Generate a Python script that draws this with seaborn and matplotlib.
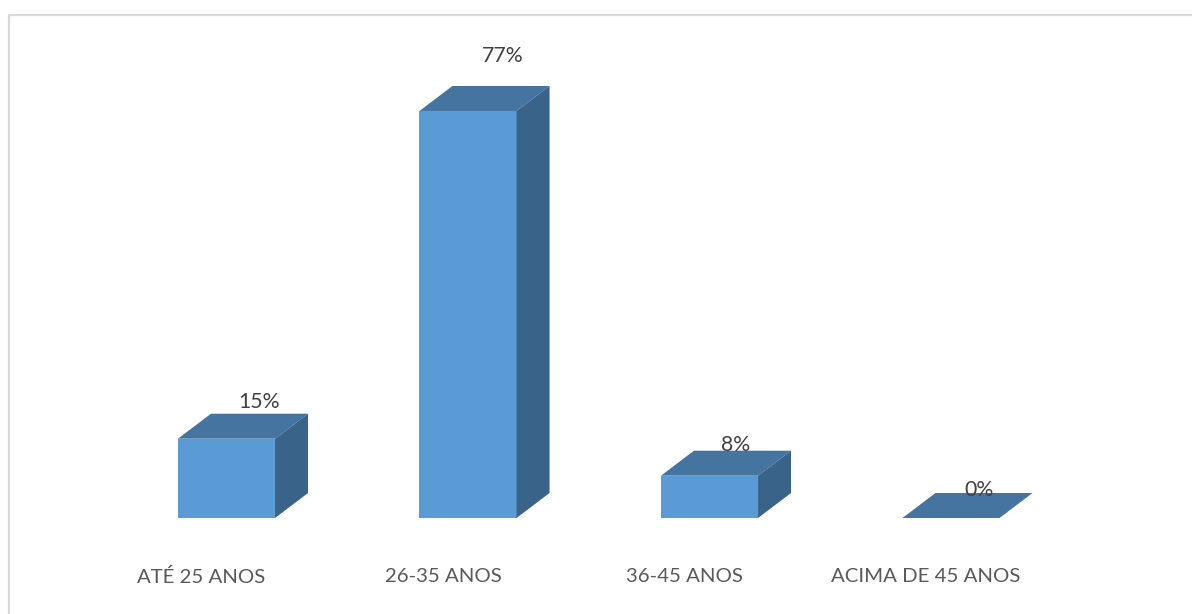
import matplotlib

matplotlib.use("Agg")
import matplotlib.pyplot as plt
import pandas as pd
import seaborn as sns
from matplotlib.lines import Line2D
from matplotlib.patches import Polygon
from matplotlib.transforms import ScaledTranslation

categories = ["ATÉ 25 ANOS", "26-35 ANOS", "36-45 ANOS", "ACIMA DE 45 ANOS"]
values = [15, 77, 8, 0]
value_labels = ["15%", "77%", "8%", "0%"]

FRONT = "#5b9bd5"
TOP = "#44749f"
SIDE = "#396389"
W, H = 1192, 614
PX_PER_PCT = 5.286

sns.set_theme(style="white")
plt.rcParams["font.family"] = ["Lato", "DejaVu Sans"]

fig = plt.figure(figsize=(W / 100, H / 100), dpi=100)
# axes box chosen so one category = 241.5 px
ax = fig.add_axes([105.75 / W, (H - 518) / H, 966 / W, 90 * PX_PER_PCT / H])

df = pd.DataFrame({"faixa": categories, "pct": values})
sns.barplot(
    data=df,
    x="faixa",
    y="pct",
    color=FRONT,
    saturation=1,
    width=0.402,
    linewidth=0,
    edgecolor="none",
    ax=ax,
)
ax.set_xlim(-0.5, 3.5)
ax.set_ylim(0, 90)
ax.set_xlabel("")
ax.set_ylabel("")
sns.despine(ax=ax, left=True, bottom=True)
ax.set_yticks([])

# fake 3D depth, in data units
dx = 33 / 241.5
dy = 25 / PX_PER_PCT

# label nudges in px from the back top edge, per bar
nudges = [(33, 11.5), (35, 30), (26, 6), (28, 3)]

for bar, label, nudge in zip(ax.patches, value_labels, nudges):
    x0 = bar.get_x()
    x1 = x0 + bar.get_width()
    h = bar.get_height()
    ax.add_patch(
        Polygon(
            [(x0, h), (x1, h), (x1 + dx, h + dy), (x0 + dx, h + dy)],
            facecolor=TOP,
            edgecolor="none",
            zorder=3,
        )
    )
    if h > 0:
        ax.add_patch(
            Polygon(
                [(x1, 0), (x1 + dx, dy), (x1 + dx, h + dy), (x1, h)],
                facecolor=SIDE,
                edgecolor="none",
                zorder=3,
            )
        )
    ax.annotate(
        label,
        xy=(x0 + bar.get_width() / 2, h + dy),
        xytext=(nudge[0] * 0.72, nudge[1] * 0.72),
        textcoords="offset points",
        ha="center",
        va="center",
        fontsize=15.3,
        color="#404040",
        zorder=5,
    )

# category labels sit left of the bar centres
ax.tick_params(axis="x", length=0, pad=36, labelsize=14.7, labelcolor="#595959")
shift = ScaledTranslation(-25 / 100, 0, fig.dpi_scale_trans)
for tick in ax.get_xticklabels():
    tick.set_transform(tick.get_transform() + shift)

# light frame, only top and left fall inside the picture
frame = dict(color="#d9d9d9", linewidth=1.6, transform=fig.transFigure)
fig.add_artist(Line2D([9 / W, 1], [1 - 15 / H, 1 - 15 / H], **frame))
fig.add_artist(Line2D([9 / W, 9 / W], [0, 1 - 15 / H], **frame))

fig.savefig("out.png", dpi=100)
